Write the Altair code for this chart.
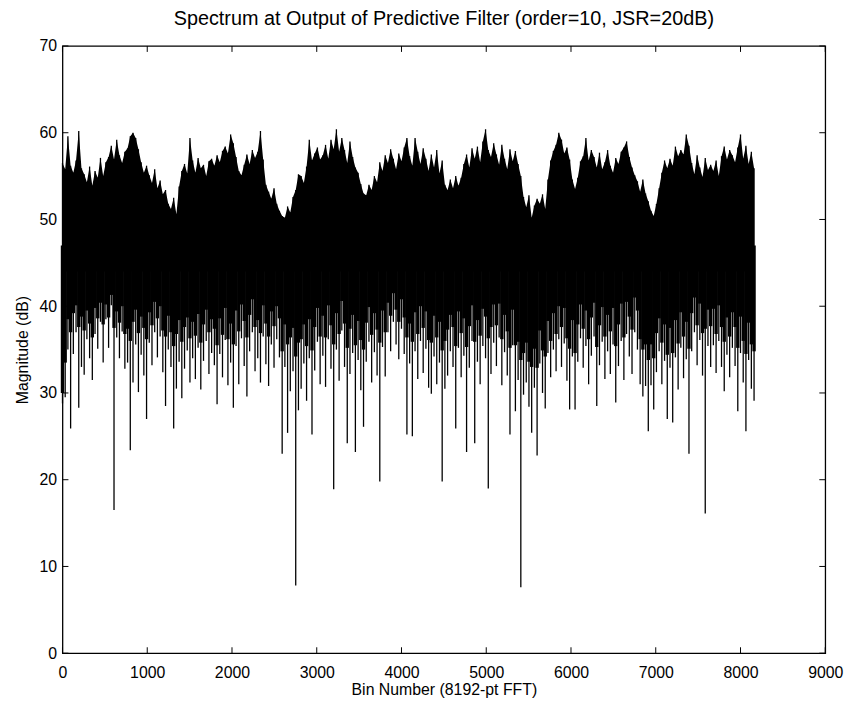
import altair as alt
import pandas as pd

# ---- data ----
# spectrum envelope sampled every 32 bins: upper (hi) and lower (lo) extremes, dB
bins = list(range(0, 8192, 32))
hi = [
    56.5, 55.8, 59.6, 56.2, 55.4, 56.8, 60.2, 55.9,
    55.2, 54.3, 56.1, 53.9, 55.6, 54.8, 57.1, 55.0,
    56.6, 57.2, 58.5, 56.9, 59.2, 57.4, 56.5, 57.8,
    58.2, 59.6, 60.0, 59.4, 58.1, 56.6, 55.4, 56.2,
    55.1, 54.2, 55.8, 53.6, 54.5, 52.9, 53.4, 51.8,
    51.2, 52.5, 50.6, 53.8, 55.6, 56.4, 55.3, 59.4,
    56.8, 55.4, 57.1, 55.9, 56.3, 55.0, 56.7, 57.0,
    56.2, 57.4, 56.6, 57.9, 58.4, 57.6, 59.8, 58.8,
    57.2, 55.6, 55.1, 56.3, 57.5, 56.4, 58.0, 57.1,
    57.8, 60.2, 56.9, 54.0, 53.2, 52.4, 53.6, 51.8,
    51.0, 50.4, 50.2, 51.5, 50.8, 52.6, 53.4, 55.2,
    55.0, 54.2, 56.1, 59.2, 56.8, 57.6, 58.3, 56.9,
    57.4, 58.6, 57.0, 59.2, 58.1, 60.4, 57.8, 59.4,
    58.0, 56.5, 59.0, 57.2, 56.0, 55.4, 54.1, 53.0,
    52.8, 54.0, 53.4, 55.0, 54.3, 56.6, 55.6, 57.4,
    56.5, 58.1, 57.0, 55.8, 57.6, 56.7, 58.3, 59.4,
    57.3, 56.2, 59.4, 57.8, 56.4, 58.2, 57.0, 55.6,
    57.5, 56.0, 58.0, 55.3, 56.8, 54.0, 53.4, 54.6,
    53.6, 55.0, 53.9, 54.8, 56.4, 57.5, 56.0, 58.2,
    57.0, 58.4, 56.6, 59.0, 60.4, 58.0, 57.2, 58.8,
    57.5, 56.3, 58.6, 57.0, 55.8, 58.1, 56.7, 57.9,
    56.4, 55.0, 52.6, 51.4, 52.8, 50.2, 51.6, 52.4,
    51.8, 52.9, 51.2, 54.6, 56.8, 57.9, 58.6, 60.0,
    59.2, 57.6, 58.3, 56.9, 54.6, 53.5, 54.8, 56.7,
    57.3, 59.4, 56.8, 58.0, 57.2, 56.0, 57.7, 55.8,
    56.6, 58.0, 56.2, 55.4, 57.1, 56.4, 57.8, 58.3,
    59.0, 57.2, 56.0, 55.1, 54.4, 53.2, 54.6, 53.0,
    52.1, 51.0, 50.4, 51.8, 53.6, 55.4, 56.8, 55.9,
    57.0, 56.2, 58.4, 57.3, 58.0, 57.5, 59.8, 58.5,
    56.5, 55.2, 57.4, 56.0, 54.9, 57.1, 55.7, 56.3,
    55.6, 56.8, 55.0, 57.3, 58.4, 56.9, 58.0, 57.4,
    56.6, 58.3, 59.8, 57.0, 58.5, 56.4, 57.8, 55.9,
]
# lower edge of the dense (solid black) band
dense = [
    30.0, 33.5, 38.5, 37.0, 39.2, 40.1, 37.6, 38.8,
    37.2, 39.5, 38.0, 36.4, 39.8, 38.6, 40.4, 37.9,
    40.2, 38.7, 41.3, 37.5, 39.4, 38.1, 40.0, 36.8,
    37.4, 36.0, 38.2, 39.6, 36.9, 38.8, 37.5, 36.2,
    39.3, 37.8, 40.5, 38.6, 40.0, 37.2, 36.5, 38.9,
    37.0, 35.4, 36.8, 38.4, 35.9, 37.6, 38.7, 36.3,
    38.2, 36.6, 39.1, 35.8, 37.9, 39.6, 37.0, 38.5,
    37.4, 35.5, 38.6, 36.7, 39.8, 36.2, 38.0, 35.6,
    39.5, 37.1, 40.2, 38.3, 36.4, 39.0, 40.8, 37.6,
    38.4, 36.9, 40.1, 38.0, 36.5, 39.4, 37.7, 40.0,
    38.6, 34.8, 37.9, 35.6, 36.4, 37.5, 34.2, 35.8,
    36.2, 37.9, 35.4, 38.5, 34.9, 37.6, 39.8, 36.5,
    38.9, 36.4, 40.1, 37.8, 35.6, 39.2, 36.8, 40.6,
    38.0, 35.2, 37.4, 39.0, 35.5, 38.3, 36.1, 35.0,
    38.1, 39.9, 36.7, 39.2, 37.3, 35.8, 39.5, 37.0,
    40.4, 38.9, 41.5, 39.6, 38.2, 40.8, 38.7, 36.4,
    38.0, 35.9, 39.3, 36.8, 40.0, 37.5, 39.4, 36.1,
    35.8, 38.9, 36.4, 38.2, 34.9, 36.0, 37.3, 39.0,
    37.6, 35.4, 39.4, 36.9, 38.6, 35.3, 37.7, 40.1,
    35.9, 38.4, 36.6, 39.7, 38.8, 36.3, 37.6, 40.2,
    37.8, 40.3, 36.2, 39.0, 37.1, 35.2, 39.6, 35.5,
    35.9, 33.8, 34.6, 35.8, 33.6, 33.0, 35.1, 32.9,
    37.2, 34.9, 34.2, 38.3, 36.0, 39.2, 36.8, 40.0,
    37.6, 39.8, 36.3, 35.1, 38.4, 34.6, 37.9, 40.2,
    37.4, 39.5, 36.2, 38.7, 40.4, 35.3, 37.8, 39.9,
    36.5, 39.0, 37.1, 39.8, 35.4, 37.9, 40.3, 36.4,
    40.5, 38.8, 37.3, 41.0, 39.5, 36.2, 35.0, 35.6,
    33.8, 35.6, 34.0, 36.9, 38.6, 35.8, 37.9, 34.4,
    37.5, 34.6, 38.4, 35.7, 39.3, 36.5, 38.2, 35.1,
    39.2, 41.0, 37.8, 40.3, 36.9, 37.4, 39.6, 37.7,
    39.7, 36.8, 40.1, 37.6, 35.9, 38.7, 36.5, 39.3,
    37.6, 35.2, 38.8, 36.0, 34.5, 38.1, 35.6, 34.8,
]
# lower extremes (thin spectral lines)
lo = [
    28.8, 29.5, 35.0, 25.9, 34.5, 37.0, 28.3, 33.0,
    32.1, 36.2, 34.0, 31.5, 36.8, 35.1, 38.2, 33.5,
    38.5, 35.2, 40.1, 16.5, 36.4, 34.0, 37.1, 32.8,
    33.5, 23.4, 31.2, 35.6, 30.1, 34.4, 32.0, 27.0,
    35.8, 33.2, 37.0, 34.1, 36.5, 32.4, 28.5, 35.0,
    33.0, 25.9, 30.5, 33.6, 29.4, 32.8, 34.9, 31.2,
    34.0, 31.6, 35.2, 30.4, 33.7, 36.0, 32.2, 34.6,
    33.2, 28.7, 34.5, 31.8, 36.1, 30.9, 33.5, 28.3,
    35.4, 31.0, 36.3, 33.1, 29.6, 34.8, 37.0, 32.5,
    34.0, 31.2, 36.5, 33.3, 30.8, 35.6, 32.9, 36.2,
    34.1, 23.0, 33.0, 25.4, 30.2, 32.5, 7.8, 28.0,
    30.5, 33.4, 29.1, 34.0, 25.2, 32.6, 35.9, 31.0,
    34.3, 30.7, 36.2, 32.8, 18.9, 35.0, 31.4, 37.2,
    33.0, 24.2, 32.2, 34.6, 23.2, 33.8, 30.3, 26.1,
    33.6, 35.9, 31.2, 34.7, 32.0, 19.8, 35.3, 31.9,
    37.0, 34.8, 38.2, 35.6, 33.9, 37.4, 34.5, 25.2,
    33.4, 25.0, 34.8, 31.6, 36.0, 32.3, 35.1, 30.6,
    29.9, 34.2, 31.0, 33.5, 19.8, 30.5, 32.0, 34.8,
    33.0, 25.9, 35.2, 31.8, 34.3, 23.2, 32.9, 36.0,
    24.2, 33.6, 31.0, 35.4, 34.0, 19.0, 32.2, 35.8,
    33.1, 36.4, 30.9, 34.7, 32.0, 25.2, 35.5, 27.9,
    31.5, 7.6, 29.8, 31.2, 28.4, 25.4, 30.6, 22.8,
    33.4, 30.0, 28.2, 34.6, 31.8, 35.0, 32.5, 36.2,
    33.0, 35.7, 31.4, 28.1, 34.2, 28.1, 33.6, 36.3,
    32.9, 35.4, 31.0, 34.3, 36.5, 28.5, 33.2, 35.9,
    31.6, 34.8, 32.2, 35.6, 28.9, 33.1, 36.0, 31.5,
    36.8, 34.2, 32.2, 37.0, 35.0, 31.0, 29.6, 30.8,
    25.6, 30.9, 28.1, 32.4, 34.8, 31.0, 33.7, 27.0,
    32.9, 26.6, 34.1, 30.4, 35.2, 31.7, 33.9, 23.0,
    34.8, 37.0, 33.2, 36.1, 32.0, 16.1, 35.4, 33.0,
    35.5, 32.3, 36.0, 33.0, 30.2, 34.4, 31.8, 35.2,
    33.1, 27.9, 34.6, 31.2, 25.6, 33.8, 30.5, 29.1,
]

x_ticks = [0, 1000, 2000, 3000, 4000, 5000, 6000, 7000, 8000, 9000]
y_ticks = [0, 10, 20, 30, 40, 50, 60, 70]

title_text = "Spectrum at Output of Predictive Filter (order=10, JSR=20dB)"
x_title = "Bin Number (8192-pt FFT)"
y_title = "Magnitude (dB)"

# ---- build ----
W, H = 770, 613
FONT = "Liberation Sans"

df = pd.DataFrame({"bin": bins, "hi": hi, "dense": dense, "lo": lo})
xt_df = pd.DataFrame({"xt": x_ticks})
yt_df = pd.DataFrame({"yt": y_ticks})

xs = alt.Scale(domain=[0, 9000], nice=False, zero=False)
ys = alt.Scale(domain=[0, 70], nice=False, zero=False)

x_axis = alt.Axis(values=x_ticks, format="d", ticks=False, domain=False, grid=False,
                  labelPadding=12, titlePadding=1, labelFlush=False, title=x_title)
y_axis = alt.Axis(values=y_ticks, format="d", ticks=False, domain=False, grid=False,
                  labelPadding=6, titlePadding=9, title=y_title)


def X(field):
    return alt.X(field, type="quantitative", scale=xs, axis=x_axis, title=x_title)


def Y(field):
    return alt.Y(field, type="quantitative", scale=ys, axis=y_axis, title=y_title)


# solid upper part: jagged top following the envelope
upper = alt.Chart(df).mark_area(color="black", interpolate="linear").encode(
    x=X("bin"), y=Y("hi"), y2=alt.datum(44))

# solid lower part of the band, one bar per 32 bins
band = alt.Chart(df).mark_rule(color="black", strokeWidth=3.4).encode(
    x=X("bin"), y=Y("dense"), y2=alt.datum(47))

# individual spectral lines down to the lower extremes
lines = alt.Chart(df).mark_rule(color="black", strokeWidth=1.3).encode(
    x=X("bin"), y=Y("hi"), y2="lo:Q")

tick_len = 6
xb = alt.Chart(xt_df).mark_rule(color="black", strokeWidth=1).encode(
    x=X("xt"), y=alt.value(H), y2=alt.value(H - tick_len))
xtp = alt.Chart(xt_df).mark_rule(color="black", strokeWidth=1).encode(
    x=X("xt"), y=alt.value(0), y2=alt.value(tick_len))
yl = alt.Chart(yt_df).mark_rule(color="black", strokeWidth=1).encode(
    y=Y("yt"), x=alt.value(0), x2=alt.value(tick_len))
yr = alt.Chart(yt_df).mark_rule(color="black", strokeWidth=1).encode(
    y=Y("yt"), x=alt.value(W), x2=alt.value(W - tick_len))

chart = alt.layer(upper, band, lines, xb, xtp, yl, yr).properties(
    width=W, height=H,
    autosize="none",
    background="white",
    padding={"left": 55, "top": 35, "right": 27, "bottom": 55},
    title=alt.TitleParams(title_text, font=FONT, fontSize=20, fontWeight="normal",
                          color="black", offset=9, anchor="middle"),
).configure_view(
    stroke="black", strokeWidth=1.3
).configure_axis(
    labelFont=FONT, titleFont=FONT, labelFontSize=16, titleFontSize=16,
    labelColor="black", titleColor="black", titleFontWeight="normal",
)

chart.save("out.html", embed_options={"renderer": "svg", "actions": False})
